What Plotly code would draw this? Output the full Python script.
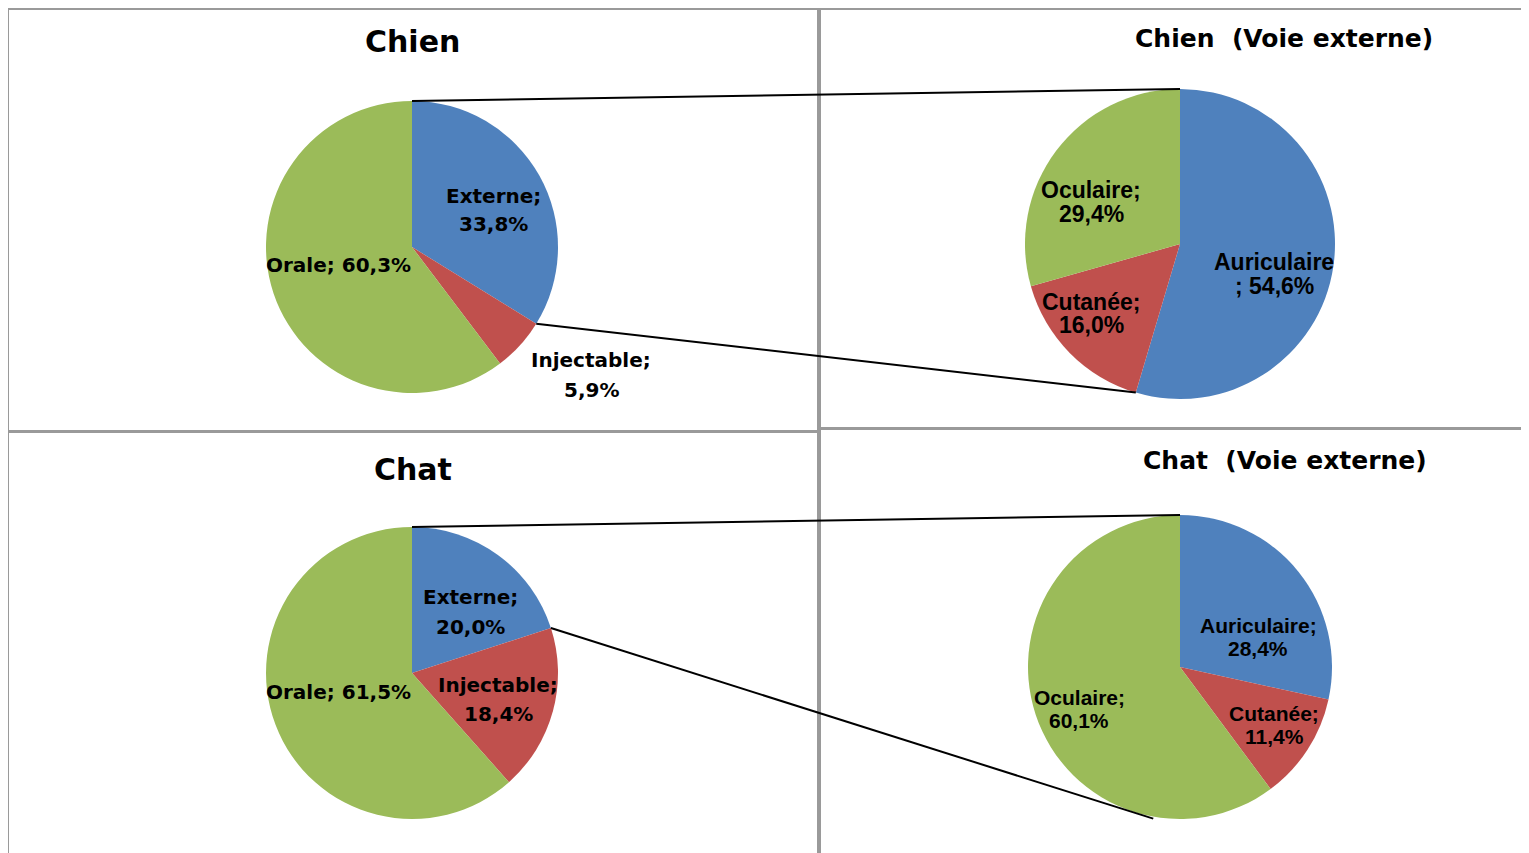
import math
import plotly.graph_objects as go

W, H = 1529, 853
OX, OY = 8, 8  # page body margin offset

# ---------------- data ----------------
chien_cats = ["Externe", "Injectable", "Orale"]
chien_vals = [33.8, 5.9, 60.3]
chien_ext_cats = ["Auriculaire", "Cutanée", "Oculaire"]
chien_ext_vals = [54.6, 16.0, 29.4]
chat_cats = ["Externe", "Injectable", "Orale"]
chat_vals = [20.0, 18.4, 61.5]
chat_ext_cats = ["Auriculaire", "Cutanée", "Oculaire"]
chat_ext_vals = [28.4, 11.4, 60.1]
titles = ["Chien", "Chien\u00a0 (Voie externe)", "Chat", "Chat\u00a0 (Voie externe)"]

colors = ["#4F81BD", "#C0504D", "#9BBB59"]


def px(x):
    return (x - OX) / W


def py(y):
    return 1 - (y - OY) / H


def fmt(v):
    return f"{v:.1f}".replace(".", ",") + "%"


# layout of each pie: center, radius (px), label font, label placements
pies = [
    dict(cats=chien_cats, vals=chien_vals, cx=412, cy=247, r=146,
         font=dict(family="DejaVu Sans", size=20, color="black"),
         labels=[("split", 493, 196, 224), ("split", 591, 360, 390), ("one", 338, 265, None)],
         title=(titles[0], 412, 42, 30)),
    dict(cats=chien_ext_cats, vals=chien_ext_vals, cx=1180, cy=244, r=155,
         font=dict(family="Liberation Sans", size=23, color="black"),
         labels=[("semi", 1274, 262, 286), ("split", 1091, 302, 325), ("split", 1091, 190, 214)],
         title=(titles[1], 1284, 39, 25)),
    dict(cats=chat_cats, vals=chat_vals, cx=412, cy=673, r=146,
         font=dict(family="DejaVu Sans", size=20, color="black"),
         labels=[("split", 470, 597, 627), ("split", 498, 685, 714), ("one", 338, 692, None)],
         title=(titles[2], 413, 469, 30)),
    dict(cats=chat_ext_cats, vals=chat_ext_vals, cx=1180, cy=667, r=152,
         font=dict(family="Liberation Sans", size=21, color="black"),
         labels=[("split", 1258, 625, 648), ("split", 1274, 713, 736), ("split", 1079, 697, 720)],
         title=(titles[3], 1285, 460, 25)),
]

fig = go.Figure()
annotations = []
shapes = []

# panel borders
for (x0, y0, x1, y1) in [(8, 9, 818, 431), (8, 432, 818, 870), (820, 9, 1545, 428), (820, 429, 1545, 870)]:
    shapes.append(dict(type="rect", xref="paper", yref="paper",
                       x0=px(x0), x1=px(x1), y0=py(y1), y1=py(y0),
                       line=dict(color="#9a9a9a", width=2), fillcolor="rgba(0,0,0,0)", layer="below"))

for p in pies:
    cx, cy, r = p["cx"], p["cy"], p["r"]
    fig.add_trace(go.Pie(
        labels=p["cats"], values=p["vals"], sort=False, direction="clockwise", rotation=0,
        marker=dict(colors=colors, line=dict(width=0)),
        textinfo="none", hoverinfo="label+percent", showlegend=False,
        domain=dict(x=[px(cx - r), px(cx + r)], y=[py(cy + r), py(cy - r)]),
    ))
    for cat, val, (style, x, y1, y2) in zip(p["cats"], p["vals"], p["labels"]):
        if style == "one":
            lines = [(f"{cat}; {fmt(val)}", y1)]
        elif style == "semi":
            lines = [(cat, y1), (f"; {fmt(val)}", y2)]
        else:
            lines = [(f"{cat};", y1), (fmt(val), y2)]
        for txt, yy in lines:
            annotations.append(dict(text=f"<b>{txt}</b>", x=px(x), y=py(yy), xref="paper", yref="paper",
                                    xanchor="center", yanchor="middle", showarrow=False, font=p["font"]))
    t, tx, ty, ts = p["title"]
    annotations.append(dict(text=f"<b>{t}</b>", x=px(tx), y=py(ty), xref="paper", yref="paper",
                            xanchor="center", yanchor="middle", showarrow=False,
                            font=dict(family="DejaVu Sans", size=ts, color="black")))


def edge(p, frac_deg, extra=0):
    a = math.radians(frac_deg)
    rr = p["r"] + extra
    return p["cx"] + rr * math.sin(a), p["cy"] - rr * math.cos(a)


# connector lines between main pie and detail pie
connectors = [
    (edge(pies[0], 0), edge(pies[1], 0)),
    (edge(pies[0], 360 * chien_vals[0] / sum(chien_vals)), edge(pies[1], 360 * chien_ext_vals[0] / sum(chien_ext_vals))),
    (edge(pies[2], 0), edge(pies[3], 0)),
    (edge(pies[2], 360 * chat_vals[0] / sum(chat_vals)), edge(pies[3], 190, 2)),
]
for (xa, ya), (xb, yb) in connectors:
    shapes.append(dict(type="line", xref="paper", yref="paper",
                       x0=px(xa), y0=py(ya), x1=px(xb), y1=py(yb),
                       line=dict(color="black", width=2)))

fig.update_layout(
    width=W, height=H,
    margin=dict(l=0, r=0, t=0, b=0),
    paper_bgcolor="white", plot_bgcolor="white",
    annotations=annotations, shapes=shapes,
)

fig.write_html("out.html")
